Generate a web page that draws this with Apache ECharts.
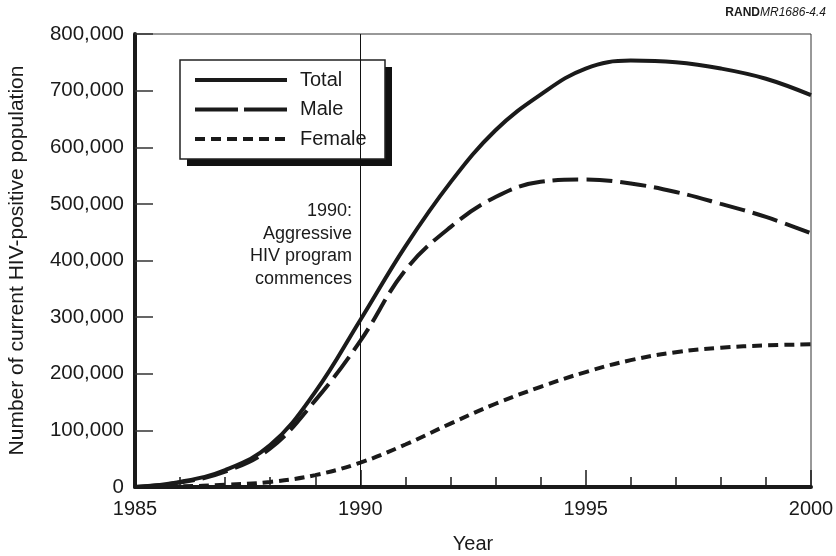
<!DOCTYPE html>
<html>
<head>
<meta charset="utf-8">
<script src="https://cdn.jsdelivr.net/npm/echarts@6/dist/echarts.min.js"></script>
<style>
html,body{margin:0;padding:0;background:#fff;}
#chart{width:836px;height:556px;}
</style>
</head>
<body>
<div id="chart"></div>
<script>
var years = [1985, 1986, 1987, 1988, 1989, 1990, 1991, 1992, 1993, 1994, 1995, 1996, 1997, 1998, 1999, 2000];
var totalVals = [0, 9000, 30000, 74000, 168000, 295000, 425000, 538000, 630000, 693000, 739000, 753000, 750000, 739000, 721000, 692000];
var maleVals = [0, 8000, 27000, 68000, 153000, 258000, 383000, 459000, 512000, 539000, 543000, 536000, 521000, 500000, 477000, 448000];
var femaleVals = [0, 1000, 4000, 9000, 21000, 43000, 75000, 112000, 147000, 177000, 203000, 224000, 238000, 246000, 250000, 252000];
var seriesNames = ['Total', 'Male', 'Female'];
var programYear = 1990;
var annotationLines = ['1990:', 'Aggressive', 'HIV program', 'commences'];
var yAxisTitle = 'Number of current HIV-positive population';
var xAxisTitle = 'Year';

function pairs(vals) { return years.map(function (y, i) { return [y, vals[i]]; }); }

var FONT = 'Liberation Sans, Arial, Helvetica, sans-serif';
var INK = '#1a1a1a';
var chart = echarts.init(document.getElementById('chart'), null, {renderer: 'canvas'});

chart.setOption({
  animation: false,
  backgroundColor: '#fff',
  textStyle: {fontFamily: FONT},
  grid: {left: 135, right: 25, top: 34, bottom: 69, containLabel: false, outerBoundsMode: 'none',
         show: true, borderColor: '#333', borderWidth: 1, backgroundColor: 'transparent'},
  legend: {
    orient: 'vertical', left: 180, top: 60, z: 6,
    padding: [10, 20, 10, 13], itemGap: 9.5,
    itemWidth: 92, itemHeight: 20,
    textStyle: {fontSize: 20, color: INK, fontFamily: FONT, padding: [0, 0, 0, 8]},
    itemStyle: {opacity: 0},
    data: [
      {name: seriesNames[0], itemStyle: {opacity: 0}, lineStyle: {width: 4, type: 'solid'}},
      {name: seriesNames[1], itemStyle: {opacity: 0}, lineStyle: {width: 4, type: [43, 6]}},
      {name: seriesNames[2], itemStyle: {opacity: 0}, lineStyle: {width: 4, type: [10, 6]}}
    ]
  },
  xAxis: {
    type: 'value', min: 1985, max: 2000, interval: 5,
    name: xAxisTitle, nameLocation: 'middle', nameGap: 47,
    nameTextStyle: {fontSize: 20, color: INK},
    axisLine: {show: true, onZero: false, lineStyle: {color: INK, width: 4}},
    axisTick: {show: true, inside: true, length: 17, lineStyle: {color: INK, width: 1.5}},
    minorTick: {show: true, splitNumber: 5, length: 10, lineStyle: {color: INK, width: 1.5}},
    axisLabel: {fontSize: 20, color: INK, margin: 12, formatter: function (v) { return String(v); }},
    splitLine: {show: false}
  },
  yAxis: {
    type: 'value', min: 0, max: 800000, interval: 100000,
    name: yAxisTitle, nameLocation: 'middle', nameGap: 107, nameRotate: 90,
    nameTextStyle: {fontSize: 21, color: INK},
    axisLine: {show: true, onZero: false, lineStyle: {color: INK, width: 4}},
    axisTick: {show: true, inside: true, length: 18, lineStyle: {color: '#333', width: 1.5}},
    axisLabel: {fontSize: 20.5, color: INK, margin: 11, formatter: function (v) { return v.toLocaleString('en-US'); }},
    splitLine: {show: false}
  },
  series: [
    {
      name: seriesNames[0], type: 'line', smooth: 0.4, symbol: 'none', data: pairs(totalVals),
      lineStyle: {color: INK, width: 4, type: 'solid'}, itemStyle: {color: INK},
      markLine: {
        silent: true, symbol: ['none', 'none'], label: {show: false},
        lineStyle: {color: '#111', width: 1, type: 'solid'},
        data: [{xAxis: programYear}]
      },
      z: 3
    },
    {
      name: seriesNames[1], type: 'line', smooth: 0.4, symbol: 'none', data: pairs(maleVals),
      lineStyle: {color: INK, width: 4, type: [26, 8]}, itemStyle: {color: INK}, z: 3
    },
    {
      name: seriesNames[2], type: 'line', smooth: 0.4, symbol: 'none', data: pairs(femaleVals),
      lineStyle: {color: INK, width: 4, type: [10, 6]}, itemStyle: {color: INK}, z: 3
    }
  ],
  graphic: [
    {
      type: 'rect', z: 4, silent: true,
      shape: {x: 187, y: 67, width: 205, height: 99},
      style: {fill: '#111'}
    },
    {
      type: 'rect', z: 5, silent: true,
      shape: {x: 180, y: 60, width: 205, height: 99},
      style: {fill: '#fff', stroke: '#222', lineWidth: 1.5}
    },
    {
      type: 'text', right: 10, top: 7,
      style: {
        text: '{b|RAND}{i|MR1686-4.4}',
        rich: {
          b: {fontWeight: 'bold', fontSize: 12, fontFamily: FONT, fill: INK},
          i: {fontStyle: 'italic', fontSize: 12, fontFamily: FONT, fill: INK}
        }
      }
    },
    {
      type: 'text', x: 352, y: 200,
      style: {
        text: annotationLines.join('\n'),
        align: 'right', verticalAlign: 'top',
        fontSize: 18, lineHeight: 22.5, fontFamily: FONT, fill: INK
      }
    }
  ]
});
</script>
</body>
</html>
